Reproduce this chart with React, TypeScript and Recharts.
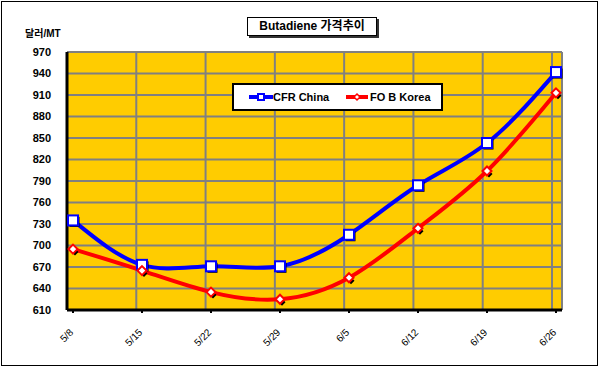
import React from "react";
import { LineChart, Line, XAxis, YAxis, CartesianGrid } from "recharts";

const weeks = ["5/8", "5/15", "5/22", "5/29", "6/5", "6/12", "6/19", "6/26"];
const cfrChina = [735, 673, 671, 671, 715, 784, 843, 942];
const fobKorea = [695, 665, 635, 625, 655, 724, 804, 913];
const yTicks = [610, 640, 670, 700, 730, 760, 790, 820, 850, 880, 910, 940, 970];

const data = weeks.map((w, i) => ({ week: w, cfr: cfrChina[i], fob: fobKorea[i] }));

const FONT = "Arial, 'Liberation Sans', 'Noto Sans CJK KR', sans-serif";

function SquareDot(props: any) {
  const { cx, cy } = props;
  if (cx == null || cy == null) return null;
  return (
    <g>
      <rect x={cx - 3.5} y={cy - 3.5} width={10} height={10} fill="#000" />
      <rect x={cx - 5} y={cy - 5} width={10} height={10} fill="#fff" stroke="#0000ff" strokeWidth={2} />
    </g>
  );
}

function DiamondDot(props: any) {
  const { cx, cy } = props;
  if (cx == null || cy == null) return null;
  const d = (x: number, y: number, r: number) =>
    `M${x},${y - r}L${x + r},${y}L${x},${y + r}L${x - r},${y}Z`;
  return (
    <g>
      <path d={d(cx + 2, cy + 3, 3.5)} fill="#000" />
      <path d={d(cx, cy, 4.5)} fill="#fff" stroke="#ff0000" strokeWidth={2} />
    </g>
  );
}

function WeekTick(props: any) {
  const { x, y, payload } = props;
  const ex = x + 1;
  const ey = y + 18;
  return (
    <text
      x={ex}
      y={ey}
      transform={`rotate(-45 ${ex} ${ey})`}
      textAnchor="end"
      fontSize={10}
      fontFamily={FONT}
      fill="#000"
    >
      {payload.value}
    </text>
  );
}

export default function App() {
  return (
    <div style={{ position: "fixed", left: 0, top: 0, width: 599, height: 367, background: "#fff", fontFamily: FONT }}>
      <div style={{ position: "absolute", left: 1, top: 1, width: 595, height: 363, border: "1px solid #000" }} />
      <LineChart
        width={599}
        height={367}
        data={data}
        margin={{ top: 52, right: 37, bottom: 0, left: 7 }}
        style={{ position: "absolute", left: 0, top: 0 }}
      >
        <CartesianGrid
          fill="#FFCC00"
          stroke="#808080"
          strokeWidth={2}
          verticalCoordinatesGenerator={({ offset }: any) => {
            const step = (offset.width - 10) / 7;
            const xs = weeks.map((_, i) => offset.left + i * step);
            xs.push(offset.left + offset.width);
            return xs;
          }}
        />
        <XAxis
          dataKey="week"
          height={57}
          padding={{ left: 6, right: 6 }}
          axisLine={{ stroke: "#000", strokeWidth: 3 }}
          tickLine={{ stroke: "#000", strokeWidth: 2 }}
          tickSize={3}
          tick={<WeekTick />}
          interval={0}
        />
        <YAxis
          width={60}
          domain={[610, 970]}
          ticks={yTicks}
          interval={0}
          axisLine={{ stroke: "#000", strokeWidth: 3 }}
          tickLine={false}
          tickMargin={10}
          tick={{ fontSize: 11, fontWeight: "bold", fill: "#000", fontFamily: FONT }}
        />
        <Line
          type="natural"
          dataKey="cfr"
          stroke="#0000ff"
          strokeWidth={4}
          dot={<SquareDot />}
          activeDot={false}
          isAnimationActive={false}
        />
        <Line
          type="natural"
          dataKey="fob"
          stroke="#ff0000"
          strokeWidth={4}
          dot={<DiamondDot />}
          activeDot={false}
          isAnimationActive={false}
        />
      </LineChart>

      <div style={{ position: "absolute", left: 25, top: 25, fontSize: 10, fontWeight: "bold" }}>달러/MT</div>

      <div
        style={{
          position: "absolute",
          left: 247,
          top: 17,
          width: 128,
          height: 17,
          border: "1px solid #000",
          boxShadow: "2px 2px 0 #333",
          background: "#fff",
          fontSize: 12,
          fontWeight: "bold",
          lineHeight: "17px",
          textAlign: "center",
          whiteSpace: "nowrap",
        }}
      >
        Butadiene 가격추이
      </div>

      <div
        style={{
          position: "absolute",
          left: 232,
          top: 83,
          width: 207,
          height: 24,
          border: "2px solid #000",
          background: "#fff",
        }}
      >
        <svg width={207} height={24} style={{ position: "absolute", left: 0, top: 0 }}>
          <line x1={15} y1={12} x2={39} y2={12} stroke="#0000ff" strokeWidth={4} />
          <rect x={24} y={9} width={6} height={6} fill="#fff" stroke="#0000ff" strokeWidth={2} />
          <line x1={112} y1={12} x2={134} y2={12} stroke="#ff0000" strokeWidth={4} />
          <path d="M123,9L126,12L123,15L120,12Z" fill="#fff" stroke="#ff0000" strokeWidth={1.5} />
          <text x={39} y={16} fontSize={11} fontWeight="bold" fontFamily={FONT} fill="#000">CFR China</text>
          <text x={136} y={16} fontSize={11} fontWeight="bold" fontFamily={FONT} fill="#000">FO B Korea</text>
        </svg>
      </div>
    </div>
  );
}
